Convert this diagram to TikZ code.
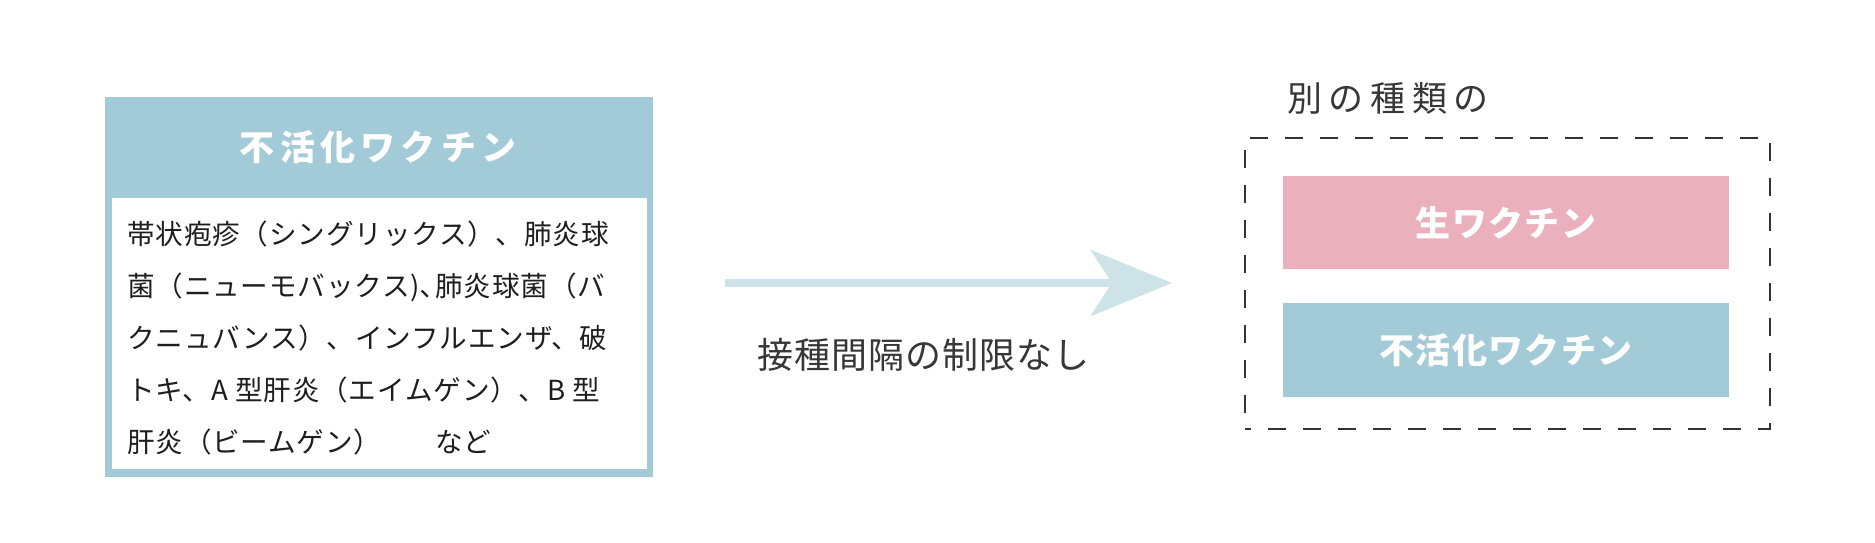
\documentclass[tikz,border=0pt]{standalone}
\usepackage{fontspec}
\usetikzlibrary{arrows.meta}
\newfontfamily\jpbody[LetterSpace=3]{Noto Sans CJK JP}
\newfontfamily\jphead[LetterSpace=15]{Noto Sans CJK JP}
\newfontfamily\jpbox[LetterSpace=4]{Noto Sans CJK JP}
\newfontfamily\jpgroup[LetterSpace=19]{Noto Sans CJK JP}
\newfontfamily\jplabel[LetterSpace=3]{Noto Sans CJK JP}
\definecolor{hblue}{RGB}{163,202,215}
\definecolor{pinkc}{RGB}{234,177,189}
\definecolor{arrowc}{RGB}{206,227,232}
\definecolor{bodyc}{RGB}{30,30,30}
\definecolor{grayc}{RGB}{55,55,55}
\definecolor{dashc}{RGB}{51,51,51}
\begin{document}
\begin{tikzpicture}[x=1pt,y=1pt,
  panel/.style={inner sep=0pt, outer sep=0pt, draw=none, anchor=north west},
  headtext/.style={inner sep=0pt, text=white, font=\jphead\bfseries\fontsize{35}{40}\selectfont},
  bodytext/.style={inner sep=0pt, text=bodyc, align=left, font=\jpbody\fontsize{27.6}{52}\selectfont},
  vbox/.style={inner sep=0pt, minimum width=446pt, minimum height=93pt, text=white, font=\jpbox\bfseries\fontsize{35}{40}\selectfont},
  graytext/.style={inner sep=0pt, text=grayc, anchor=west},
  bigarrow/.style={draw=arrowc, line width=8pt, -{Stealth[length=82pt, width=67pt, inset=22pt, line width=0pt]}},
  groupbox/.style={panel, draw=dashc, line width=2pt, dash pattern=on 18pt off 17pt, dash phase=12pt}
]
\useasboundingbox (0,0) rectangle (1875,-542);

% left panel
\node[panel, fill=hblue, minimum width=548pt, minimum height=380pt] (leftbox) at (105,-97) {};
\node[panel, fill=white, minimum width=535pt, minimum height=271pt] (leftbody) at (112,-198) {};
\node[headtext] (lefttitle) at (378,-147) {不活化ワクチン};
\node[bodytext, anchor=west] (bodytxt) at (127,-338) {帯状疱疹（シングリックス）、肺炎球\\菌（ニューモバックス)､肺炎球菌（バ\\クニュバンス）、インフルエンザ、破\\トキ、A 型肝炎（エイムゲン）、B 型\\肝炎（ビームゲン）\hspace*{1.95em}など};

% arrow
\coordinate (arrS) at (725,-283);
\coordinate (arrE) at (1172,-283);
\draw[bigarrow] (arrS) -- (arrE);
\node[graytext, font=\jplabel\fontsize{36}{40}\selectfont] (arrlabel) at (757,-355) {接種間隔の制限なし};

% right group
\node[groupbox, minimum width=525pt, minimum height=291pt] (group) at (1245,-138) {};
\node[graytext, font=\jpgroup\fontsize{35}{40}\selectfont] (grouplabel) at (1287,-98) {別の種類の};
\node[vbox, fill=pinkc] (live) at (1506,-222.5) {生ワクチン};
\node[vbox, fill=hblue, minimum height=94pt] (inact) at (1506,-350) {不活化ワクチン};
\end{tikzpicture}
\end{document}
